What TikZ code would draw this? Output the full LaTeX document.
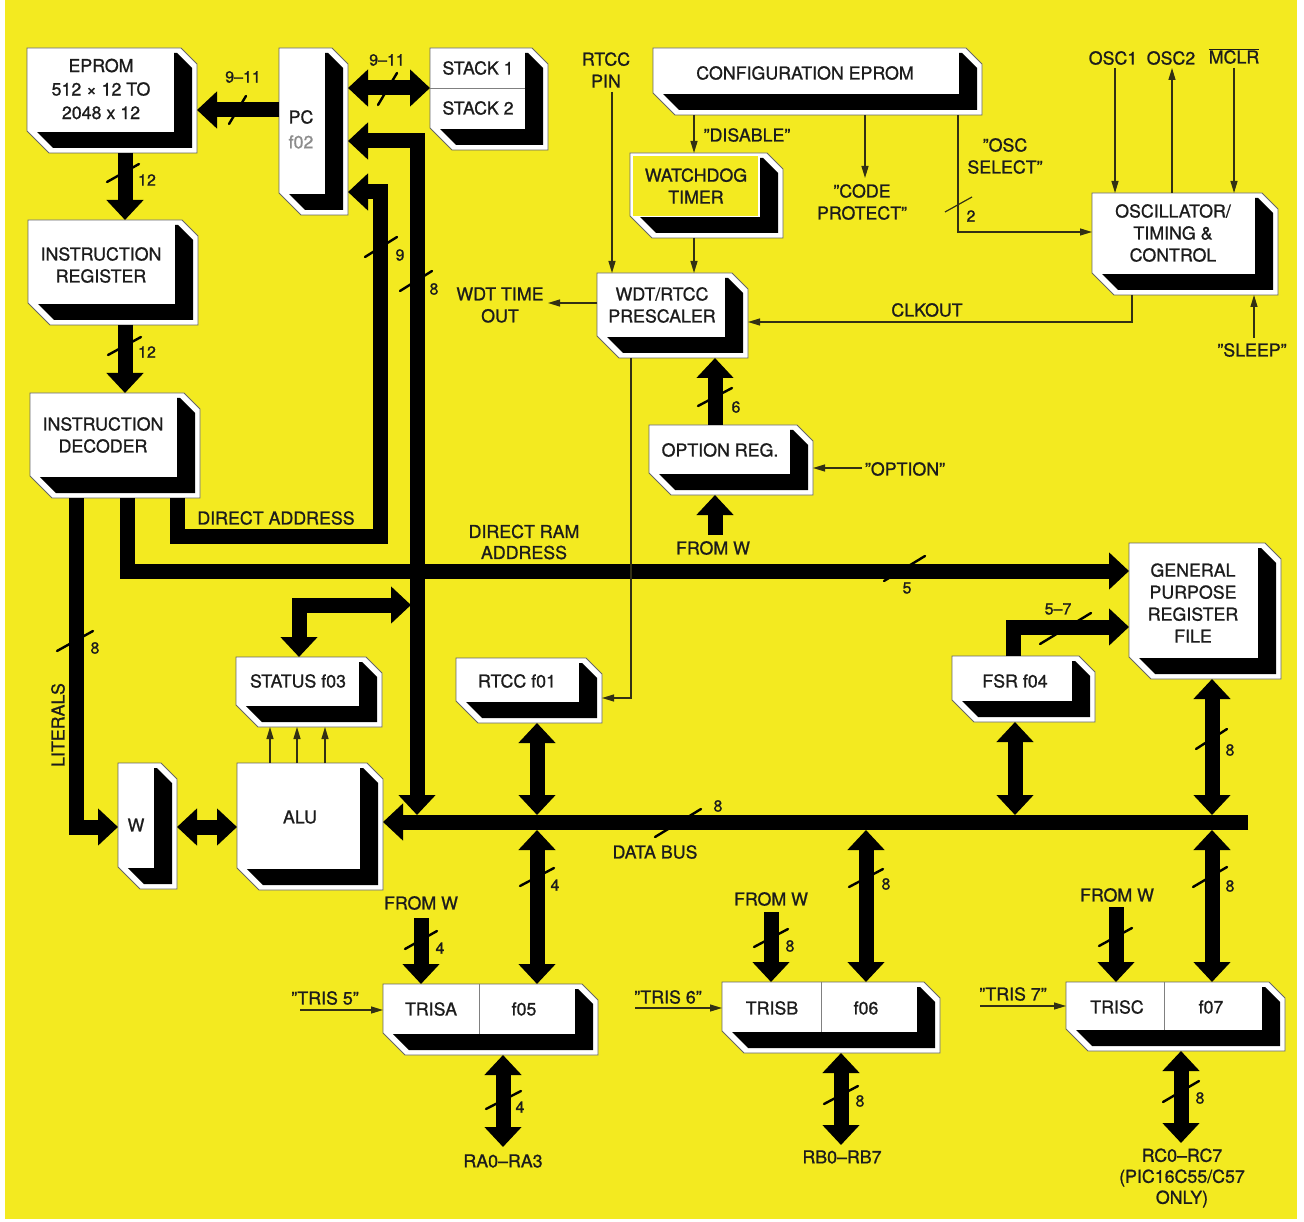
\documentclass[tikz,border=0pt]{standalone}
\usepackage{fontspec}
\setmainfont{TeX Gyre Heros}[FakeBold=1.0]
\usetikzlibrary{arrows.meta}
\definecolor{yel}{RGB}{243,234,32}
\definecolor{ink}{RGB}{28,28,28}
\definecolor{wirec}{RGB}{50,48,20}
\newcommand\qq{\symbol{34}}
\tikzset{
  bus/.style={line width=15pt, draw=black, line join=miter},
  bt/.tip={Triangle[width=36pt,length=20pt]},
  wire/.style={line width=1.2pt, draw=wirec},
  wt/.tip={Triangle[width=7pt,length=12pt]},
  busmark/.style={line width=2.4pt, draw=black, line cap=round},
  lbl/.style={font=\fontsize{17.8}{22}\selectfont, text=ink, align=center, inner sep=0pt},
  num/.style={font=\fontsize{16}{19}\selectfont, text=ink, inner sep=0pt},
}
% #1 name, #2 x0, #3 y0, #4 x1, #5 y1, #6 face colour
\newcommand\pbox[6]{%
  \fill[white] (#2,#3) -- ({#4-16},#3) -- (#4,{#3+16}) -- (#4,#5) -- ({#2+22},#5) -- (#2,{#5-22}) -- cycle;
  \fill[black] ({#2+6},{#3+5}) -- ({#4-20},{#3+5}) -- ({#4-5},{#3+20}) -- ({#4-5},{#5-5}) -- ({#2+26},{#5-5}) -- ({#2+6},{#5-25}) -- cycle;
  \fill[#6] (#2,#3) rectangle ({#4-23},{#5-21});
  \draw[black!60, line width=0.8pt] (#2,#3) -- ({#4-16},#3) -- (#4,{#3+16}) -- (#4,#5) -- ({#2+22},#5) -- (#2,{#5-22}) -- cycle;
  \node[inner sep=0pt, outer sep=0pt, minimum width={(#4-#2)*1pt}, minimum height={(#5-#3)*1pt}] (#1) at ({(#2+#4)/2},{(#3+#5)/2}) {};
}
\newcommand\bmark[4]{\draw[busmark] (#1,#2) -- (#3,#4);}
\begin{document}
\begin{tikzpicture}[x=1pt,y=-1pt]
\useasboundingbox (0,0) rectangle (1304,1222);
\fill[white] (0,0) rectangle (1304,1222);
\fill[yel] (5,0) rectangle (1297,1219);

% ---------- boxes ----------
\pbox{eprom}{27}{48}{197}{153}{white}
\pbox{ir}{28}{220}{198}{325}{white}
\pbox{id}{30}{393}{200}{498}{white}
\pbox{pc}{279}{48}{348}{215}{white}
\pbox{stack}{430}{48}{548}{150}{white}
\draw[black!50, line width=0.8pt] (430,88) -- (525,88);
\pbox{config}{653}{48}{982}{115}{white}
\pbox{wdog}{630}{153}{783}{238}{white}
\fill[yel] (633,156) rectangle (758,216);
\pbox{presc}{597}{273}{748}{358}{white}
\pbox{osc}{1092}{193}{1278}{295}{white}
\pbox{option}{649}{425}{813}{495}{white}
\pbox{gprf}{1129}{543}{1281}{679}{white}
\pbox{fsr}{952}{656}{1095}{722}{white}
\pbox{rtcc}{456}{658}{602}{723}{white}
\pbox{status}{236}{657}{382}{727}{white}
\pbox{alu}{237}{763}{383}{890}{white}
\pbox{w}{118}{763}{177}{889}{white}
\pbox{trisa}{383}{984}{598}{1055}{white}
\draw[black!50, line width=0.8pt] (479,984) -- (479,1034);
\pbox{trisb}{722}{982}{940}{1053}{white}
\draw[black!50, line width=0.8pt] (821,982) -- (821,1032);
\pbox{trisc}{1066}{982}{1285}{1051}{white}
\draw[black!50, line width=0.8pt] (1164,982) -- (1164,1030);

% ---------- free ends ----------
\coordinate (busR) at (1248,822);
\coordinate (busA) at (417,815);
\coordinate (busT1) at (537,815);
\coordinate (busB1) at (537,830);
\coordinate (busB2) at (866,830);
\coordinate (busB3) at (1212,830);
\coordinate (busT2) at (1015,815);
\coordinate (busT3) at (1212,815);
\coordinate (fwA) at (421,918);
\coordinate (fwB) at (771,912);
\coordinate (fwC) at (1116,907);
\coordinate (fwO) at (715,535);
\coordinate (pinA) at (503,1147);
\coordinate (pinB) at (841,1145);
\coordinate (pinC) at (1181,1143);

% ---------- buses ----------
\draw[bus,-bt] (pc.west |- 0,110) -- (eprom.east |- 0,110);
\draw[bus,bt-bt] (pc.east |- 0,88) -- (stack.west |- 0,88);
\draw[bus,-bt] (eprom.south -| 125,0) -- (ir.north -| 125,0);
\draw[bus,-bt] (ir.south -| 125,0) -- (id.north -| 125,0);
\draw[bus,-bt] (id.south -| 76,0) -- (76,827) -- (w.west |- 0,827);
\draw[bus,-bt] (id.south -| 127,0) -- (127,571) -- (gprf.west |- 0,571);
\draw[bus,-bt] (id.south -| 177,0) -- (177,536) -- (380,536) -- (380,192) -- (pc.east |- 0,192);
\draw[bus,bt-bt] (pc.east |- 0,141) -- (417,141) -- (busA);
\draw[bus,bt-bt] (status.north -| 299,0) -- (299,605) -- (411,605);
\draw[bus,bt-bt] (w.east |- 0,827) -- (alu.west |- 0,827);
\draw[bus,-bt] (busR) -- (alu.east |- busR);
\draw[bus,bt-bt] (rtcc.south -| busT1) -- (busT1);
\draw[bus,bt-bt] (busB1) -- (trisa.north -| busB1);
\draw[bus,-bt] (fwA) -- (trisa.north -| fwA);
\draw[bus,bt-bt] (trisa.south -| pinA) -- (pinA);
\draw[bus,bt-bt] (busB2) -- (trisb.north -| busB2);
\draw[bus,-bt] (fwB) -- (trisb.north -| fwB);
\draw[bus,bt-bt] (trisb.south -| pinB) -- (pinB);
\draw[bus,bt-bt] (busB3) -- (trisc.north -| busB3);
\draw[bus,-bt] (fwC) -- (trisc.north -| fwC);
\draw[bus,bt-bt] (trisc.south -| pinC) -- (pinC);
\draw[bus,bt-bt] (fsr.south -| busT2) -- (busT2);
\draw[bus,bt-bt] (gprf.south -| busT3) -- (busT3);
\draw[bus,-bt] (fsr.north -| 1013,0) -- (1013,627) -- (gprf.west |- 0,627);
\draw[bus,-bt] (option.north -| fwO) -- (presc.south -| fwO);
\draw[bus,-bt] (fwO) -- (option.south -| fwO);

% ---------- bus width marks ----------
\bmark{229}{124}{246}{96}
\bmark{378}{105}{397}{73}
\bmark{107}{182}{139}{164}
\bmark{108}{355}{141}{337}
\bmark{57}{651}{93}{631}
\bmark{884}{581}{925}{556}
\bmark{365}{257}{397}{237}
\bmark{400}{291}{432}{271}
\bmark{655}{837}{701}{809}
\bmark{520}{886}{554}{868}
\bmark{405}{949}{437}{931}
\bmark{486}{1109}{521}{1091}
\bmark{849}{887}{883}{869}
\bmark{754}{947}{788}{929}
\bmark{824}{1104}{858}{1086}
\bmark{1193}{887}{1227}{867}
\bmark{1099}{946}{1132}{928}
\bmark{1163}{1102}{1199}{1081}
\bmark{1196}{749}{1227}{729}
\bmark{1040}{644}{1091}{613}
\bmark{698}{406}{732}{388}

% ---------- thin control lines ----------
\coordinate (rtccpin) at (612,92);
\coordinate (cpend) at (865,178);
\coordinate (wdtout) at (548,303);
\coordinate (osc1p) at (1115,68);
\coordinate (osc2p) at (1172,68);
\coordinate (mclrp) at (1234,68);
\coordinate (sleepp) at (1254,338);
\coordinate (optp) at (862,468);
\coordinate (t5) at (300,1010);
\coordinate (t6) at (635,1008);
\coordinate (t7) at (980,1006);
\draw[wire,-wt] (rtccpin) -- (presc.north -| rtccpin);
\draw[wire,-wt] (config.south -| 694,0) -- (wdog.north -| 694,0);
\draw[wire,-wt] (config.south -| cpend) -- (cpend);
\draw[wire,-wt] (config.south -| 958,0) -- (958,232) -- (osc.west |- 0,232);
\draw[wire] (945,212) -- (972,197);
\draw[wire,-wt] (wdog.south -| 694,0) -- (presc.north -| 694,0);
\draw[wire,-wt] (presc.west |- wdtout) -- (wdtout);
\draw[wire,-wt] (osc.south -| 1132,0) -- (1132,322) -- (presc.east |- 0,322);
\draw[wire,-wt] (presc.south -| 631,0) -- (631,698) -- (rtcc.east |- 0,698);
\draw[wire,-wt] (osc1p) -- (osc.north -| osc1p);
\draw[wire,-wt] (osc.north -| osc2p) -- (osc2p);
\draw[wire,-wt] (mclrp) -- (osc.north -| mclrp);
\draw[wire,-wt] (sleepp) -- (osc.south -| sleepp);
\draw[wire,-wt] (optp) -- (option.east |- optp);
\foreach \x in {270,297,325} \draw[wire,-wt] (alu.north -| \x,0) -- (status.south -| \x,0);
\draw[wire,-wt] (t5) -- (trisa.west |- t5);
\draw[wire,-wt] (t6) -- (trisb.west |- t6);
\draw[wire,-wt] (t7) -- (trisc.west |- t7);

% ---------- box texts ----------
\node[lbl, font=\fontsize{17.8}{23.5}\selectfont] (teprom) at (101,89) {EPROM\\512 × 12 TO\\2048 x 12};
\node[lbl] (tir) at (101,265) {INSTRUCTION\\REGISTER};
\node[lbl] (tid) at (103,435) {INSTRUCTION\\DECODER};
\node[lbl] (tpc) at (301,117) {PC};
\node[lbl, text=black!45] (tf02) at (301,142) {f02};
\node[lbl] (ts1) at (478,68) {STACK 1};
\node[lbl] (ts2) at (478,108) {STACK 2};
\node[lbl] (tconf) at (805,73) {CONFIGURATION EPROM};
\node[lbl] (twd) at (696,186) {WATCHDOG\\TIMER};
\node[lbl] (tpre) at (662,305) {WDT/RTCC\\PRESCALER};
\node[lbl] (tosc) at (1173,233) {OSCILLATOR/\\TIMING \&\\CONTROL};
\node[lbl] (topt) at (720,450) {OPTION REG.};
\node[lbl] (tgprf) at (1193,603) {GENERAL\\PURPOSE\\REGISTER\\FILE};
\node[lbl] (tfsr) at (1015,681) {FSR f04};
\node[lbl] (trtcc) at (517,681) {RTCC f01};
\node[lbl] (tstat) at (298,681) {STATUS f03};
\node[lbl] (talu) at (300,817) {ALU};
\node[lbl] (tw) at (136,825) {W};
\node[lbl] (ttrisa) at (431,1009) {TRISA};
\node[lbl] (tf05) at (524,1009) {f05};
\node[lbl] (ttrisb) at (772,1008) {TRISB};
\node[lbl] (tf06) at (866,1008) {f06};
\node[lbl] (ttrisc) at (1117,1007) {TRISC};
\node[lbl] (tf07) at (1211,1007) {f07};

% ---------- other labels ----------
\node[lbl] (lpin) at (606,70) {RTCC\\PIN};
\node[lbl] (ldis) at (747,135) {\qq DISABLE\qq};
\node[lbl] (lcp) at (862,202) {\qq CODE\\PROTECT\qq};
\node[lbl] (losc) at (1005,156) {\qq OSC\\SELECT\qq};
\node[lbl] (losc1) at (1113,58) {OSC1};
\node[lbl] (losc2) at (1171,58) {OSC2};
\node[lbl] (lmclr) at (1234,56) {\(\overline{\mbox{MCLR}}\)};
\node[lbl] (lwdt) at (500,305) {WDT TIME\\OUT};
\node[lbl] (lclk) at (927,310) {CLKOUT};
\node[lbl] (lsleep) at (1252,350) {\qq SLEEP\qq};
\node[lbl] (lopt) at (905,469) {\qq OPTION\qq};
\node[lbl] (lfwo) at (713,548) {FROM W};
\node[lbl] (lda) at (276,518) {DIRECT ADDRESS};
\node[lbl, font=\fontsize{17.8}{21}\selectfont] (ldra) at (524,542) {DIRECT RAM\\ADDRESS};
\node[lbl, rotate=90] (llit) at (58,725) {LITERALS};
\node[lbl] (ldb) at (655,852) {DATA BUS};
\node[lbl] (lfwa) at (421,903) {FROM W};
\node[lbl] (lfwb) at (771,899) {FROM W};
\node[lbl] (lfwc) at (1117,895) {FROM W};
\node[lbl] (lt5) at (325,998) {\qq TRIS 5\qq};
\node[lbl] (lt6) at (668,997) {\qq TRIS 6\qq};
\node[lbl] (lt7) at (1013,994) {\qq TRIS 7\qq};
\node[lbl] (lra) at (503,1161) {RA0--RA3};
\node[lbl] (lrb) at (842,1157) {RB0--RB7};
\node[lbl, font=\fontsize{17.8}{21}\selectfont] (lrc) at (1182,1178) {RC0--RC7\\(PIC16C55/C57\\ONLY)};

% ---------- width numbers ----------
\node[num] (n1) at (243,77) {9--11};
\node[num] (n2) at (387,60) {9--11};
\node[num] (n3) at (147,180) {12};
\node[num] (n4) at (147,352) {12};
\node[num] (n5) at (95,648) {8};
\node[num] (n6) at (400,255) {9};
\node[num] (n7) at (434,289) {8};
\node[num] (n8) at (907,588) {5};
\node[num] (n9) at (1058,609) {5--7};
\node[num] (n10) at (736,407) {6};
\node[num] (n11) at (1230,750) {8};
\node[num] (n12) at (718,806) {8};
\node[num] (n13) at (555,885) {4};
\node[num] (n14) at (886,884) {8};
\node[num] (n15) at (1230,886) {8};
\node[num] (n16) at (440,948) {4};
\node[num] (n17) at (790,946) {8};
\node[num] (n18) at (520,1107) {4};
\node[num] (n19) at (860,1101) {8};
\node[num] (n20) at (1200,1098) {8};
\node[num] (n21) at (971,216) {2};
\end{tikzpicture}
\end{document}
